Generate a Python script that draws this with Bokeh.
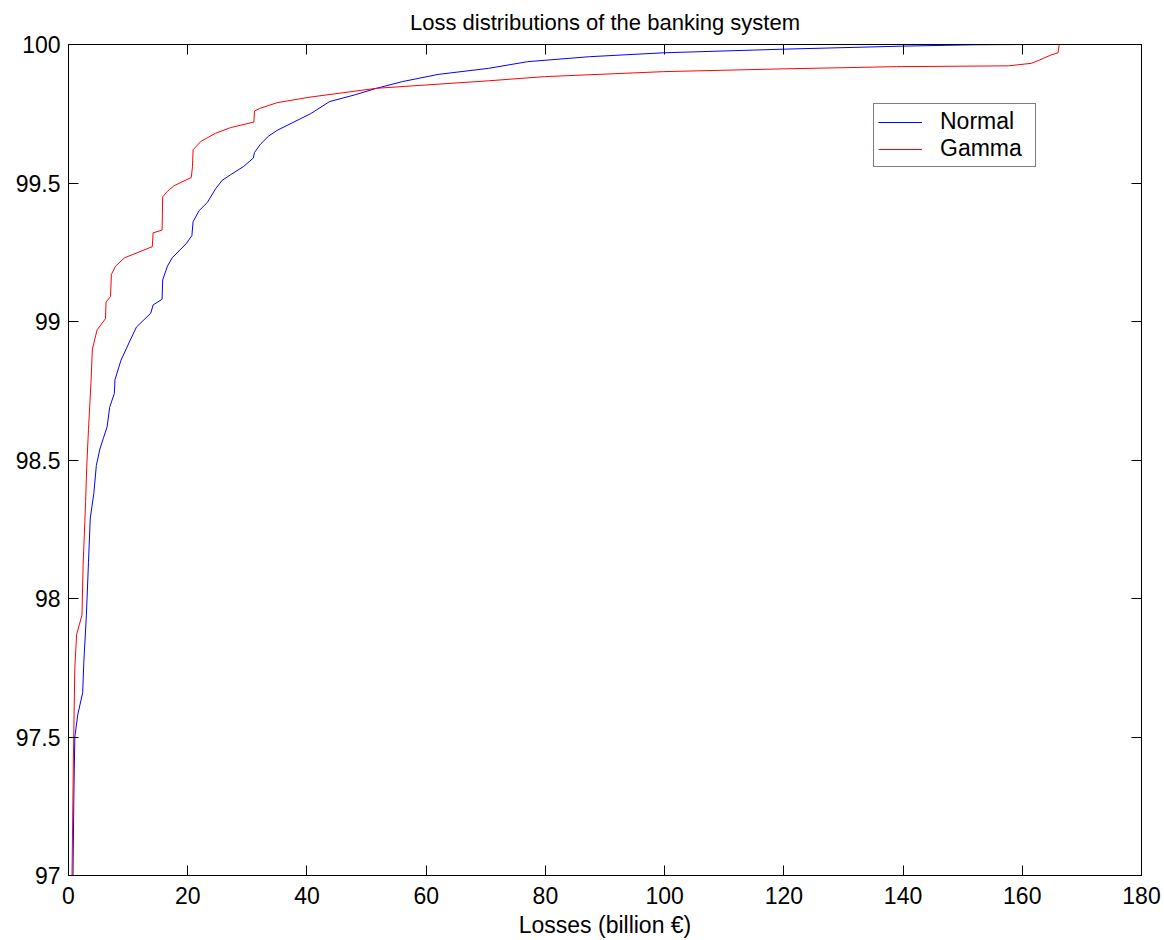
from bokeh.plotting import figure
from bokeh.models import Range1d, LinearAxis, FixedTicker, Legend, LegendItem
from bokeh.embed import file_html
from bokeh.resources import INLINE

# ---- data ----
normal_x = [0.75, 0.9, 1.06, 1.55, 2.38, 2.57, 3.0, 3.35, 3.65, 4.25, 4.67, 5.27, 5.87,
            6.48, 6.9, 7.69, 7.8, 8.8, 10.3, 11.4, 13.8, 14.2, 15.7, 15.8, 16.6, 17.4,
            19.7, 20.7, 20.9, 21.9, 23.3, 24.7, 25.8, 27.2, 29.4, 31.0, 31.2, 32.2, 33.6,
            35.0, 37.8, 40.6, 43.8, 48.0, 51.7, 56.0, 62.0, 70.5, 77.0, 87.4, 99.8, 119.7,
            139.7, 152.0, 161.5]
normal_y = [97.0, 97.29, 97.5, 97.58, 97.66, 97.77, 97.94, 98.13, 98.29, 98.38, 98.48, 98.54,
            98.58, 98.62, 98.69, 98.74, 98.79, 98.86, 98.93, 98.98, 99.03, 99.06, 99.08, 99.15,
            99.2, 99.23, 99.28, 99.31, 99.36, 99.40, 99.43, 99.48, 99.51, 99.53, 99.56, 99.59,
            99.61, 99.64, 99.67, 99.69, 99.72, 99.75, 99.794, 99.818, 99.842, 99.866, 99.892,
            99.914, 99.938, 99.956, 99.970, 99.983, 99.994, 99.999, 100.0]

gamma_x = [0.59, 0.82, 1.06, 1.36, 2.26, 2.45, 2.87, 3.05, 3.35, 3.77, 4.0, 4.8, 6.2, 6.3,
           7.05, 7.2, 7.9, 9.4, 14.05, 14.2, 15.7, 15.8, 16.6, 17.7, 20.6, 20.8, 20.9, 22.2,
           24.7, 27.2, 31.1, 31.2, 32.2, 35.0, 40.5, 51.7, 70.5, 79.9, 99.8, 119.7, 138.9,
           157.7, 161.5, 162.9, 164.8, 166.0, 166.2]
gamma_y = [97.0, 97.42, 97.75, 97.87, 97.94, 98.12, 98.35, 98.47, 98.61, 98.78, 98.90, 98.97,
           99.01, 99.07, 99.09, 99.17, 99.20, 99.23, 99.27, 99.32, 99.33, 99.45, 99.47, 99.49,
           99.52, 99.56, 99.62, 99.65, 99.68, 99.70, 99.72, 99.76, 99.77, 99.79, 99.81, 99.842,
           99.869, 99.884, 99.902, 99.912, 99.920, 99.923, 99.932, 99.944, 99.962, 99.970, 100.0]

x_ticks = [0, 20, 40, 60, 80, 100, 120, 140, 160, 180]
y_ticks = [97, 97.5, 98, 98.5, 99, 99.5, 100]
y_tick_labels = ["97", "97.5", "98", "98.5", "99", "99.5", "100"]

title_text = "Loss distributions of the banking system"
x_label = "Losses (billion \u20ac)"
series_names = ["Normal", "Gamma"]

FONT = "Liberation Sans"
FS_TITLE = "22px"
FS = "23px"

p = figure(width=1164, height=940, output_backend="svg", toolbar_location=None,
           x_range=Range1d(0, 180), y_range=Range1d(97, 100),
           min_border_left=68, min_border_right=23, min_border_top=44, min_border_bottom=64)

p.title.text = title_text
p.title.align = "center"
p.title.vertical_align = "top"
p.title.text_font = FONT
p.title.text_font_size = FS_TITLE
p.title.text_font_style = "normal"
p.title.text_color = "black"
p.title.standoff = 16

p.xgrid.visible = False
p.ygrid.visible = False
p.outline_line_color = "black"
p.outline_line_width = 1
p.background_fill_color = "white"
p.border_fill_color = "white"

r_normal = p.line(normal_x, normal_y, line_color="#0000FF", line_width=1)
r_gamma = p.line(gamma_x, gamma_y, line_color="#FF0000", line_width=1)

def style_axis(ax, show_labels=True):
    ax.major_tick_in = 10
    ax.major_tick_out = 0
    ax.minor_tick_in = 0
    ax.minor_tick_out = 0
    ax.axis_line_color = "black"
    ax.major_tick_line_color = "black"
    ax.major_label_text_font = FONT
    ax.major_label_text_font_size = FS if show_labels else "0px"
    ax.major_label_text_color = "black"
    ax.major_label_standoff = 8 if show_labels else 0
    ax.axis_label_text_font = FONT
    ax.axis_label_text_font_size = FS
    ax.axis_label_text_font_style = "normal"
    ax.axis_label_text_color = "black"

xa = p.xaxis[0]
xa.ticker = FixedTicker(ticks=x_ticks)
xa.axis_label = x_label
style_axis(xa)
xa.major_label_standoff = 11
xa.axis_label_standoff = 5

ya = p.yaxis[0]
ya.ticker = FixedTicker(ticks=y_ticks)
ya.major_label_overrides = {t: l for t, l in zip(y_ticks, y_tick_labels)}
style_axis(ya)

top_ax = LinearAxis(ticker=FixedTicker(ticks=x_ticks))
style_axis(top_ax, show_labels=False)
top_ax.major_label_text_color = None
p.add_layout(top_ax, "above")

right_ax = LinearAxis(ticker=FixedTicker(ticks=y_ticks))
style_axis(right_ax, show_labels=False)
right_ax.major_label_text_color = None
p.add_layout(right_ax, "right")

legend = Legend(items=[LegendItem(label=series_names[0], renderers=[r_normal]),
                       LegendItem(label=series_names[1], renderers=[r_gamma])],
                location=(805, 708))
legend.label_text_font = FONT
legend.label_text_font_size = FS
legend.label_text_color = "black"
legend.glyph_width = 44
legend.glyph_height = 20
legend.label_height = 20
legend.label_standoff = 18
legend.label_width = 91
legend.padding = 4
legend.spacing = 0
legend.margin = 0
legend.border_line_color = "black"
legend.border_line_width = 1
legend.background_fill_color = "white"
legend.background_fill_alpha = 1.0
p.add_layout(legend, "center")

open("out.html", "w").write(file_html(p, INLINE))
